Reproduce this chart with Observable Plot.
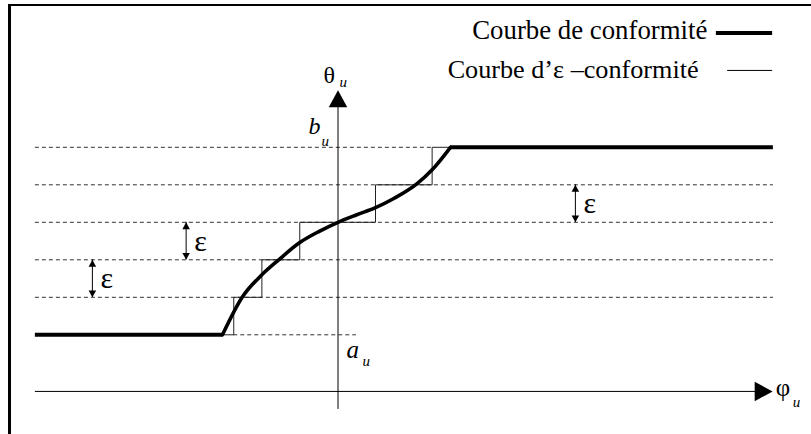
<!DOCTYPE html>
<html>
<head>
<meta charset="utf-8">
<script src="https://cdn.jsdelivr.net/npm/d3@7"></script>
<script src="https://cdn.jsdelivr.net/npm/@observablehq/plot@0.6"></script>
<style>
html, body { margin: 0; padding: 0; background: #fff; }
#wrap { position: relative; width: 811px; height: 434px; overflow: hidden; }
#wrap::before { content: ""; position: absolute; left: 8px; top: 4px; right: -10px; bottom: -10px;
  border-left: 3px solid #000; border-top: 2px solid #000; pointer-events: none; }
#wrap svg { display: block; }
</style>
</head>
<body>
<div id="wrap"></div>
<script>
// θ levels: a_u + k·ε  (a_u = 0, ε = 1, b_u = 5)
const levels = [0, 1, 2, 3, 4, 5];
const dashFrom = [-2.78, -8.07, -8.07, -8.07, -8.07, -8.07];
const dashTo = [0.49, 11.61, 11.61, 11.61, 11.61, 2.51];

// Courbe de conformité (S-shaped part)
const curvePhi = [-3.08, -2.555, -2.03, -1.58, -1.02, -0.5, 0, 0.5, 1.0, 1.5, 2.11, 2.51, 3.0];
const curveTheta = [0, 1, 1.6, 2, 2.46, 2.76, 3, 3.2, 3.39, 3.64, 4.03, 4.4, 5];
// flat parts (saturation at a_u and b_u)
const flatFrom = [-8.07, 3.0];
const flatTo = [-3.08, 11.61];
const flatTheta = [0, 5];

// Courbe d'ε-conformité (staircase)
const stairPhi = [-3.08, -2.78, -2.03, -1.02, 1.0, 2.51, 3.0];
const stairTheta = [0, 0, 1, 2, 3, 4, 5];

// axes
const axisPhiFrom = -8.07, axisPhiTip = 11.59;   // φ_u axis
const axisThetaFrom = -1.99, axisThetaTip = 6.52; // θ_u axis
const axisThetaAt = -1.51;                         // θ where φ axis lies

// ε markers
const epsPhi = [-6.55, -4.05, 6.33];
const epsLow = [1, 2, 3];
const epsHigh = [2, 3, 4];

// legend
const legendLabels = ["Courbe de conformité", "Courbe d\u2019\u03b5 \u2013conformité"];
const legendTheta = [8.05, 7.05];
const legendFrom = [10.09, 10.39];
const legendTo = 11.59;

// scales (φ=0 at the θ axis, θ=0 at a_u)
const U = 37.5, X0 = 337.5, Y0 = 334.3, W = 811, H = 434;

const table = (xs, ys) => xs.map((x, i) => ({x, y: ys[i]}));
const dashes = levels.map((y, i) => ({y, x1: dashFrom[i], x2: dashTo[i]}));
const flats = flatTheta.map((y, i) => ({y, x1: flatFrom[i], x2: flatTo[i]}));
const eps = epsPhi.map((x, i) => ({x, y1: epsLow[i], y2: epsHigh[i], ym: (epsLow[i] + epsHigh[i]) / 2}));

function tri(dir) {
  return {draw(ctx, size) {
    const r = Math.sqrt(size / Math.PI), h = 2.3 * r, w = 1.25 * r;
    ctx.moveTo(0, 0);
    if (dir === "up") { ctx.lineTo(-w, h); ctx.lineTo(w, h); }
    else if (dir === "down") { ctx.lineTo(-w, -h); ctx.lineTo(w, -h); }
    else { ctx.lineTo(-h, -w); ctx.lineTo(-h, w); }
    ctx.closePath();
  }};
}

const serif = "Liberation Serif, Times New Roman, serif";

const plot = Plot.plot({
  width: W, height: H,
  margin: 0,
  x: {domain: [-X0 / U, (W - X0) / U], range: [0, W], axis: null},
  y: {domain: [(Y0 - H) / U, Y0 / U], range: [H, 0], axis: null},
  style: {background: "#fff", overflow: "visible"},
  marks: [
    // dashed level lines
    Plot.ruleY(dashes, {y: "y", x1: "x1", x2: "x2", stroke: "#333", strokeWidth: 1, strokeDasharray: "4,3"}),
    // axes
    Plot.ruleY([axisThetaAt], {x1: axisPhiFrom, x2: axisPhiTip - 0.3, stroke: "#000", strokeWidth: 1}),
    Plot.ruleX([0], {y1: axisThetaFrom, y2: axisThetaTip - 0.3, stroke: "#000", strokeWidth: 1}),
    Plot.dot([{x: 0, y: axisThetaTip}], {x: "x", y: "y", r: 7.4, symbol: tri("up"), fill: "#000", stroke: "none"}),
    Plot.dot([{x: axisPhiTip, y: axisThetaAt}], {x: "x", y: "y", r: 7.8, symbol: tri("right"), fill: "#000", stroke: "none"}),
    // staircase
    Plot.line(table(stairPhi, stairTheta), {x: "x", y: "y", curve: "step-before", stroke: "#222", strokeWidth: 1}),
    // conformity curve
    Plot.ruleY(flats, {y: "y", x1: "x1", x2: "x2", stroke: "#000", strokeWidth: 4}),
    Plot.line(table(curvePhi, curveTheta), {x: "x", y: "y", curve: "monotone-x", stroke: "#000", strokeWidth: 3.6, strokeLinecap: "round"}),
    // ε arrows
    Plot.ruleX(eps, {x: "x", y1: "y1", y2: "y2", stroke: "#000", strokeWidth: 1}),
    Plot.dot(eps, {x: "x", y: "y2", r: 3, symbol: tri("up"), fill: "#000", stroke: "none"}),
    Plot.dot(eps, {x: "x", y: "y1", r: 3, symbol: tri("down"), fill: "#000", stroke: "none"}),
    Plot.text(eps, {x: "x", y: "ym", text: () => "\u03b5", dx: 8, textAnchor: "start", lineAnchor: "middle", fontFamily: serif, fontSize: 30, fill: "#000"}),
    // axis labels
    Plot.text([{x: 0, y: axisThetaTip}], {x: "x", y: "y", text: () => "\u03b8", dx: -3, dy: -7, textAnchor: "end", lineAnchor: "bottom", fontFamily: serif, fontSize: 24, fill: "#000"}),
    Plot.text([{x: 0, y: axisThetaTip}], {x: "x", y: "y", text: () => "u", dx: 1.5, dy: -3, textAnchor: "start", lineAnchor: "bottom", fontFamily: serif, fontStyle: "italic", fontSize: 15, fill: "#000"}),
    Plot.text([{x: 0, y: levels[5]}], {x: "x", y: "y", text: () => "b", dx: -29.5, dy: -13.8, textAnchor: "start", lineAnchor: "bottom", fontFamily: serif, fontStyle: "italic", fontSize: 24, fill: "#000"}),
    Plot.text([{x: 0, y: levels[5]}], {x: "x", y: "y", text: () => "u", dx: -16.5, dy: -1.8, textAnchor: "start", lineAnchor: "bottom", fontFamily: serif, fontStyle: "italic", fontSize: 15, fill: "#000"}),
    Plot.text([{x: 0, y: levels[0]}], {x: "x", y: "y", text: () => "a", dx: 8.5, dy: 22.7, textAnchor: "start", lineAnchor: "bottom", fontFamily: serif, fontStyle: "italic", fontSize: 25, fill: "#000"}),
    Plot.text([{x: 0, y: levels[0]}], {x: "x", y: "y", text: () => "u", dx: 24.5, dy: 30.7, textAnchor: "start", lineAnchor: "bottom", fontFamily: serif, fontStyle: "italic", fontSize: 15, fill: "#000"}),
    Plot.text([{x: axisPhiTip, y: axisThetaAt}], {x: "x", y: "y", text: () => "\u03c6", dx: 3, dy: 5, textAnchor: "start", lineAnchor: "bottom", fontFamily: serif, fontSize: 25, fill: "#000"}),
    Plot.text([{x: axisPhiTip, y: axisThetaAt}], {x: "x", y: "y", text: () => "u", dx: 20, dy: 16, textAnchor: "start", lineAnchor: "bottom", fontFamily: serif, fontStyle: "italic", fontSize: 15, fill: "#000"}),
    // legend
    Plot.ruleY([{y: legendTheta[0], x1: legendFrom[0], x2: legendTo}], {y: "y", x1: "x1", x2: "x2", stroke: "#000", strokeWidth: 4}),
    Plot.ruleY([{y: legendTheta[1], x1: legendFrom[1], x2: legendTo}], {y: "y", x1: "x1", x2: "x2", stroke: "#000", strokeWidth: 1}),
    Plot.text([{x: legendFrom[0], y: legendTheta[0], t: legendLabels[0]}], {x: "x", y: "y", text: "t", dx: -9, dy: 6, textAnchor: "end", lineAnchor: "bottom", fontFamily: serif, fontSize: 26.8, fill: "#000"}),
    Plot.text([{x: legendFrom[1], y: legendTheta[1], t: legendLabels[1]}], {x: "x", y: "y", text: "t", dx: -29, dy: 8, textAnchor: "end", lineAnchor: "bottom", fontFamily: serif, fontSize: 26.2, fill: "#000"})
  ]
});
document.getElementById("wrap").appendChild(plot);
</script>
</body>
</html>
